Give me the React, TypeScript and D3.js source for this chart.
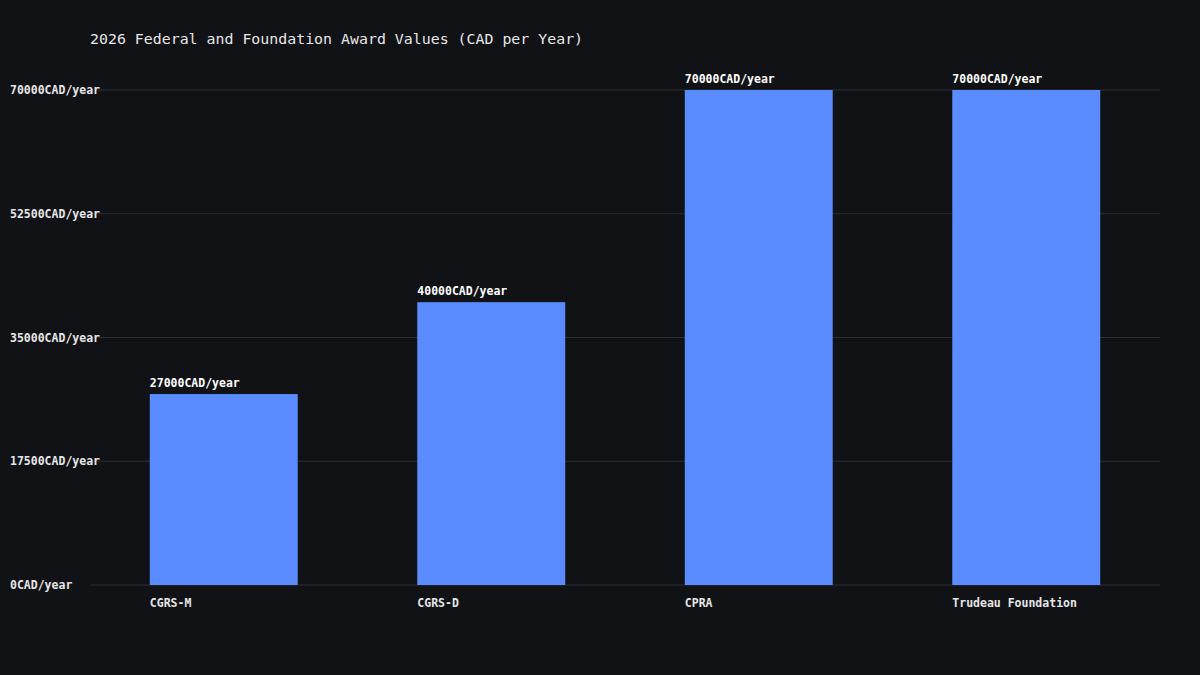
import React from "react";
import * as d3 from "d3";

const categories = ["CGRS-M", "CGRS-D", "CPRA", "Trudeau Foundation"];
const values = [27000, 40000, 70000, 70000];
const yTicks = [0, 17500, 35000, 52500, 70000];
const title = "2026 Federal and Foundation Award Values (CAD per Year)";

const W = 1200, H = 675;
const M = { left: 90, right: 40, top: 90, bottom: 90 };
const FONT = "'DejaVu Sans Mono', 'Liberation Mono', monospace";

export default function App() {
  const x = d3.scaleBand<string>()
    .domain(categories)
    .range([M.left, W - M.right])
    .paddingInner(0.447)
    .paddingOuter(0.2235);
  const y = d3.scaleLinear().domain([0, 70000]).range([H - M.bottom, M.top]);
  const fmt = (v: number) => `${v}CAD/year`;
  return (
    <svg width={W} height={H} style={{ display: "block", position: "absolute", left: 0, top: 0, background: "#111216" }}>
      <rect x={0} y={0} width={W} height={H} fill="#111216" />
      <text x={90} y={44} fill="#e6e6e6" fontFamily={FONT} fontSize={14.9}>{title}</text>
      {yTicks.map((t) => (
        <g key={t}>
          <line x1={M.left} x2={W - M.right} y1={y(t)} y2={y(t)} stroke="#2c2e34" strokeWidth={1} />
          <text x={10} y={y(t) + 4} fill="#e6e6e6" fontFamily={FONT} fontSize={11.5} fontWeight="bold">{fmt(t)}</text>
        </g>
      ))}
      {categories.map((c, i) => (
        <g key={c}>
          <rect x={x(c)} y={y(values[i])} width={x.bandwidth()} height={y(0) - y(values[i])} fill="#5b8cff" />
          <text x={x(c)} y={y(values[i]) - 7} fill="#ffffff" fontFamily={FONT} fontSize={11.5} fontWeight="bold">{fmt(values[i])}</text>
          <text x={x(c)} y={y(0) + 21.5} fill="#e6e6e6" fontFamily={FONT} fontSize={11.5} fontWeight="bold">{c}</text>
        </g>
      ))}
    </svg>
  );
}
